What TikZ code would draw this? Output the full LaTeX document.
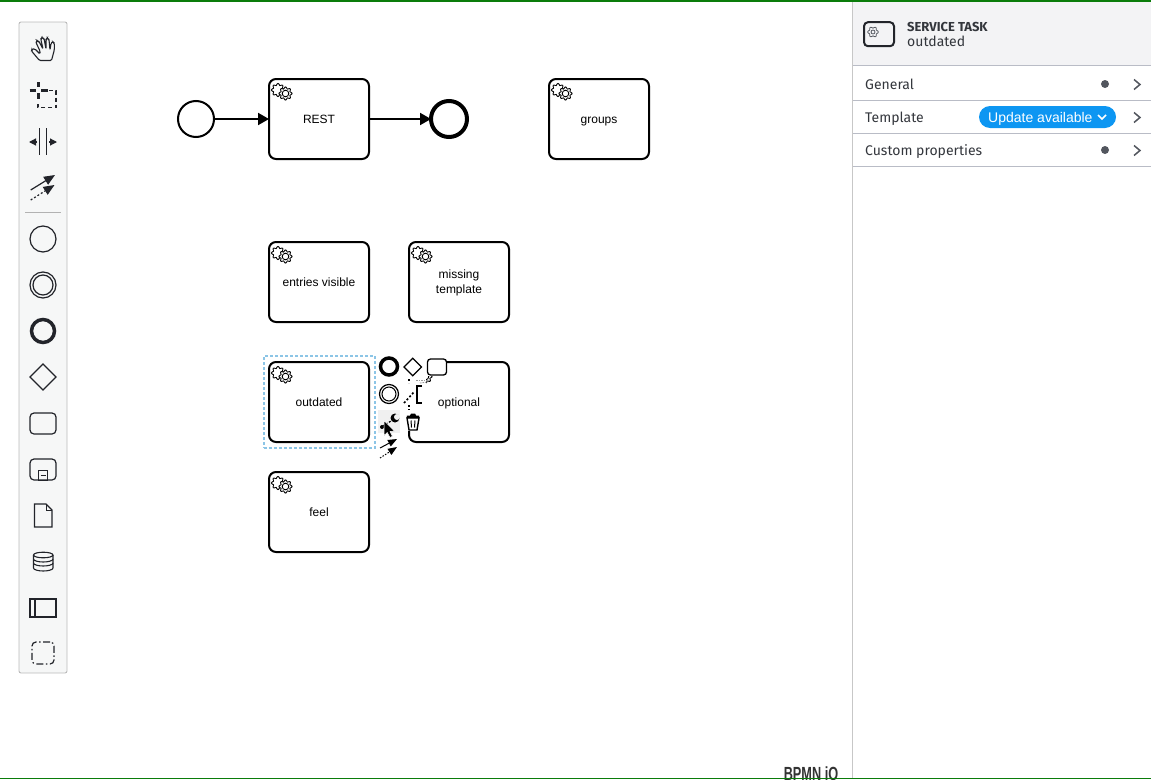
\documentclass[tikz,border=0pt]{standalone}
\usepackage{fontspec}
\usepackage{xcolor}
\setmainfont{Liberation Sans}
\newfontfamily\panelfont{Fira Sans}
\usetikzlibrary{arrows.meta, shapes.geometric, positioning}
\definecolor{toolink}{HTML}{22242A}
\definecolor{toolbg}{HTML}{F6F7F7}
\definecolor{panelline}{HTML}{B9BCC6}
\definecolor{panelink}{HTML}{33363C}
\definecolor{paneldot}{HTML}{52565E}
\definecolor{pillblue}{HTML}{0D96F2}
\definecolor{selectblue}{HTML}{8CC5E6}
\definecolor{topgreen}{HTML}{0A7C0A}

\begin{document}
\begin{tikzpicture}[x=1pt, y=-1pt, node distance=120pt, on grid,
    task/.style={rectangle, rounded corners=7pt, draw, line width=2pt, outer sep=0pt, minimum width=100pt, minimum height=80pt, align=center, text height=10pt, text depth=2pt, font=\fontsize{12}{15}\selectfont},
    startevent/.style={circle, draw, line width=2pt, outer sep=0pt, inner sep=0pt, minimum size=36pt},
    endevent/.style={circle, draw, line width=4pt, outer sep=0pt, inner sep=0pt, minimum size=36pt},
    flow/.style={line width=2pt, -{Triangle[length=11pt, width=12pt]}},
    tool/.style={draw=toolink, line width=1.2pt, outer sep=0pt, inner sep=0pt},
    toolcircle/.style={tool, circle, minimum size=#1},
    toolbox/.style={tool, rectangle, rounded corners=4pt},
    tooldiamond/.style={tool, diamond, aspect=1, minimum size=#1},
    tip/.style={-{Triangle[length=7pt, width=7pt]}},
    panelrow/.style={anchor=base west, inner sep=0pt, text=panelink, font=\panelfont\fontsize{14}{16}\selectfont},
    paneldotted/.style={circle, fill=paneldot, inner sep=0pt, minimum size=8pt},
    gears/.pic={
        \draw[line width=.9pt, fill=white] plot[domain=0:360, samples=65] ({9+(5.7+.9*cos(8*\x))*cos(\x)}, {11+(5.7+.9*cos(8*\x))*sin(\x)}) -- cycle;
        \draw[line width=.9pt, fill=white] plot[domain=0:360, samples=65] ({16.5+(5.7+.9*cos(8*\x))*cos(\x)}, {14.5+(5.7+.9*cos(8*\x))*sin(\x)}) -- cycle;
        \draw[line width=.9pt] (16.5,14.5) circle (3.3);
    },
    chevron/.pic={
        \draw[paneldot, line width=1.5pt] (-3,-5) -- (3,0) -- (-3,5);
    }]

    \useasboundingbox (0,0) rectangle (1151,779);

    \node[startevent] (start) at (196,119) {};
    \node[task, right=123pt of start] (rest) {REST};
    \node[endevent, right=130pt of rest] (end) {};
    \node[task, right=150pt of end] (groups) {groups};
    \node[task, below=163pt of rest] (entries) {entries visible};
    \node[task, right=140pt of entries, text height=24pt] (missing) {missing\\template};
    \node[task, below=of entries] (outdated) {outdated};
    \node[task, right=140pt of outdated] (optional) {optional};
    \node[task, below=110pt of outdated] (feel) {feel};

    \foreach \t in {rest, groups, entries, missing, outdated, optional, feel}
        \pic at (\t.north west) {gears};

    \path[flow]
    (start) edge (rest)
    (rest) edge (end);

    \node[rectangle, draw=selectblue, line width=2pt, dash pattern=on 3pt off 2pt, minimum width=111pt, minimum height=92pt, at=(outdated)] (selection) {};

    \fill[white] (378,356) rectangle (426,431);
    \fill[white] (426,356) rectangle (446,376);
    \fill[black!6] (378,410) rectangle (400,433);

    \node[circle, draw, line width=3.5pt, inner sep=0pt, minimum size=17pt] (padend) at (389,366.5) {};
    \node[circle, draw, line width=1.2pt, inner sep=0pt, minimum size=19pt] (padinter) at (389,394) {};
    \node[circle, draw, line width=1pt, inner sep=0pt, minimum size=14pt] (padinterin) at (389,394) {};
    \node[diamond, aspect=1.1, draw, line width=1.3pt, inner sep=0pt, minimum size=18pt] (paddiamond) at (412.7,367) {};
    \node[rectangle, rounded corners=3pt, draw, line width=1.3pt, inner sep=0pt, minimum width=19pt, minimum height=16pt] (padtask) at (437,367) {};

    \draw[line width=1.2pt] (422,386) -- (417,386) -- (417,403) -- (422,403);
    \draw[line width=1.6pt, dash pattern=on 2pt off 2pt] (404,403) -- (414,392);
    \draw[line width=1.6pt, dash pattern=on 2pt off 2pt] (409,379) -- (409,383);
    \draw[line width=1.6pt, dash pattern=on 2pt off 2pt] (409,405) -- (409,410);
    \draw[black!40, line width=.8pt, dash pattern=on 1.5pt off 1pt] (416,380) -- (431,380);
    \draw[black!40, line width=.8pt, dash pattern=on 1.5pt off 1pt] (420,383) -- (428,382);

    \draw[line width=1.4pt] (407,418) -- (409,430) -- (417,430) -- (419,418) -- cycle;
    \draw[line width=1pt] (411,420.5) -- (411.5,427.5) (415,420.5) -- (414.5,427.5);
    \fill (406.5,418) -- (407,415.5) -- (410,415.5) -- (411,413.5) -- (415,413.5) -- (416,415.5) -- (419,415.5) -- (419.5,418) -- cycle;

    \fill (382,427) circle (2);
    \draw[line width=1.2pt, dash pattern=on 2pt off 1.5pt] (383,426) -- (391,421);
    \fill (395,418) circle (4.5);
    \fill[black!6] (397,417) circle (3);

    \draw[fill=black, draw=white, line width=.5pt] (384,420.5) -- (384,435.5) -- (387.3,432.5) -- (389.9,437.5) -- (392.4,436.3) -- (390,431.5) -- (394.5,431) -- cycle;

    \coordinate (padconna) at (380,448);
    \coordinate (padconnb) at (397,439);
    \coordinate (padconnc) at (380,458);
    \coordinate (padconnd) at (397,447);
    \draw[line width=1pt, -{Triangle[length=9pt, width=7pt]}] (padconna) -- (padconnb);
    \draw[line width=1pt, dash pattern=on 1.5pt off 1.5pt, -{Triangle[length=9pt, width=7pt]}] (padconnc) -- (padconnd);

    \node[rectangle, rounded corners=2pt, draw=black!27, fill=toolbg, line width=.9pt, minimum width=48pt, minimum height=651pt, inner sep=0pt] (toolbar) at (43,347.5) {};

    \draw[toolink, line width=1.1pt, rounded corners=1.2pt] (39.5,60.5) -- (51.5,60.5) -- (54.3,50) -- (54.3,43) -- (52.5,41.5) -- (51,43.5) -- (50,50) -- (49,39.5) -- (47.3,38) -- (46,39.5) -- (46,49) -- (44,38.5) -- (42,37.5) -- (40.8,39) -- (43,49) -- (39,41.5) -- (37,40.5) -- (36,42.5) -- (40,51) -- (40,54) -- (35,49) -- (32,49) -- (31.5,51) -- cycle;

    \draw[toolink, line width=3pt] (29.5,90) -- (35.5,90) (41,90) -- (47.5,90) (38.3,82) -- (38.3,87) (38.3,93) -- (38.3,99);
    \draw[toolink, line width=1.2pt, dash pattern=on 4pt off 3pt] (49,90.5) -- (56,90.5) -- (56,107.5) -- (38,107.5) -- (38,101);

    \draw[toolink, line width=1.2pt] (39.3,128) -- (39.3,155) (46.7,128) -- (46.7,155);
    \draw[toolink, line width=1.2pt, tip] (37,142) -- (29,142);
    \draw[toolink, line width=1.2pt, tip] (49,142) -- (57,142);

    \draw[toolink, line width=1.2pt, -{Triangle[length=11pt, width=9pt]}] (30.7,190) -- (55,175);
    \draw[toolink, line width=1.2pt, dash pattern=on 2pt off 2pt, -{Triangle[length=11pt, width=9pt]}] (30.7,200) -- (54.5,185);

    \draw[black!30, line width=1pt] (25,212) -- (61,212);

    \node[toolcircle=26pt] (toolstart) at (43,239) {};
    \node[toolcircle=26pt] (toolinter) at (43,285) {};
    \node[toolcircle=20pt] (toolinterin) at (43,285) {};
    \node[toolcircle=23pt, line width=3.5pt] (toolend) at (43,331) {};
    \node[tooldiamond=26pt] (toolgateway) at (43,377) {};
    \node[toolbox, minimum width=26pt, minimum height=21pt] (tooltask) at (43,423.5) {};
    \node[toolbox, minimum width=26pt, minimum height=21pt] (toolsub) at (43,469.5) {};
    \node[tool, rectangle, line width=.9pt, minimum width=9pt, minimum height=10pt, below=5.5pt of toolsub] (toolsubmark) {};
    \draw[toolink, line width=1pt] (40.5,475) -- (45.5,475);

    \draw[toolink, line width=1.2pt] (34.5,504) -- (46,504) -- (52,510) -- (52,527) -- (34.5,527) -- cycle;
    \draw[toolink, line width=.9pt] (46,504) -- (46,510) -- (52,510);

    \draw[toolink, line width=1.1pt] (33.5,555) -- (33.5,568) arc[start angle=180, end angle=0, x radius=9.75, y radius=3] -- (53,555);
    \draw[toolink, line width=1.1pt] (43.25,555) ellipse[x radius=9.75, y radius=2.8];
    \draw[toolink, line width=1.1pt] (33.5,559) arc[start angle=180, end angle=0, x radius=9.75, y radius=3];
    \draw[toolink, line width=1.1pt] (33.5,563) arc[start angle=180, end angle=0, x radius=9.75, y radius=3];

    \node[tool, rectangle, minimum width=26pt, minimum height=18pt] (toolpool) at (43,608) {};
    \draw[toolink, line width=1.2pt] (35,599) -- (35,617);
    \node[toolbox, minimum width=22pt, minimum height=22pt, dash pattern=on 7pt off 2.5pt on 1.5pt off 2.5pt] (toolgroup) at (43,653) {};

    \fill[panelline!18] (853,2) rectangle (1151,65);
    \draw[black!22, line width=1pt] (852.5,0) -- (852.5,779);
    \draw[panelline, line width=1pt] (853,65.5) -- (1151,65.5) (853,100.5) -- (1151,100.5) (853,133.5) -- (1151,133.5) (853,166.5) -- (1151,166.5);

    \node[rectangle, rounded corners=4pt, draw=toolink, line width=2pt, minimum width=30pt, minimum height=24pt, inner sep=0pt] (headicon) at (879,34.2) {};
    \draw[paneldot, line width=.8pt] plot[domain=0:360, samples=65] ({873+(4.6+.7*cos(6*\x))*cos(\x)}, {32+(4.6+.7*cos(6*\x))*sin(\x)}) -- cycle;
    \draw[paneldot, line width=.8pt] (873,32) circle (2);

    \node[panelrow, font=\panelfont\bfseries\fontsize{13}{14}\selectfont] (headtype) at (907,31.5) {SERVICE TASK};
    \node[panelrow] (headname) at (907,46) {outdated};
    \node[panelrow] (general) at (865,89) {General};
    \node[panelrow] (template) at (865,122) {Template};
    \node[panelrow] (custom) at (865,155) {Custom properties};

    \node[paneldotted] (generaldot) at (1105,84) {};
    \node[paneldotted] (customdot) at (1105,150) {};
    \pic at (1137,84.5) {chevron};
    \pic at (1137,117.5) {chevron};
    \pic at (1137,150.5) {chevron};

    \node[rectangle, rounded corners=11pt, fill=pillblue, minimum width=137pt, minimum height=22pt, inner sep=0pt] (pill) at (1047.5,117) {};
    \node[anchor=base west, inner sep=0pt, text=white, font=\fontsize{14}{16}\selectfont] (pilltext) at (988,122) {Update available};
    \draw[white, line width=1.6pt] (1098,115) -- (1102,119) -- (1106,115);

    \node[anchor=base, inner sep=0pt, xscale=.67, text=black!80, font=\bfseries\fontsize{19}{20}\selectfont] (logo) at (811,780.5) {BPMN iO};
    \fill[topgreen] (0,0) rectangle (1151,2);
    \fill[topgreen] (0,778) rectangle (1151,779);

\end{tikzpicture}
\end{document}
